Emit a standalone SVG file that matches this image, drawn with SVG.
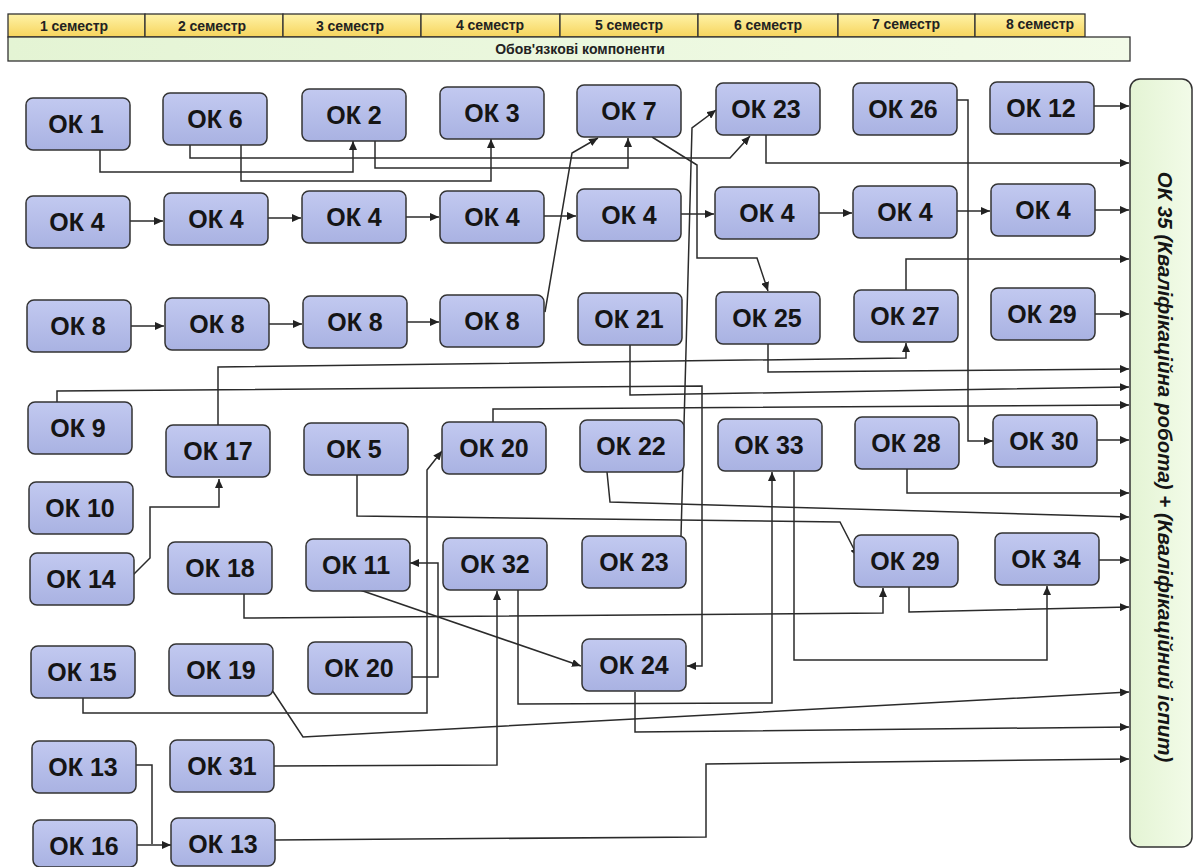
<svg xmlns="http://www.w3.org/2000/svg" width="1196" height="867" viewBox="0 0 1196 867">
<defs>
<linearGradient id="gy" x1="0" y1="0" x2="0" y2="1"><stop offset="0" stop-color="#fff3a8"/><stop offset="1" stop-color="#f6d45c"/></linearGradient>
<linearGradient id="gg" x1="0" y1="0" x2="1" y2="0"><stop offset="0" stop-color="#e4f4d4"/><stop offset="1" stop-color="#f2fbe8"/></linearGradient>
<linearGradient id="gn" x1="0" y1="0" x2="0" y2="1"><stop offset="0" stop-color="#c2c9f0"/><stop offset="1" stop-color="#a9b2e2"/></linearGradient>
<marker id="ar" markerWidth="9" markerHeight="8" refX="9" refY="4" orient="auto" markerUnits="userSpaceOnUse"><path d="M0,0 L9,4 L0,8 z" fill="#222"/></marker>
<style>
.hd{fill:url(#gy);stroke:#333;stroke-width:1.3}
.ht{font-family:"Liberation Sans",Arial,sans-serif;font-weight:bold;font-size:14px;fill:#222;text-anchor:middle}
.n rect{fill:url(#gn);stroke:#333;stroke-width:1.5}
.n text{font-family:"Liberation Sans",Arial,sans-serif;font-weight:bold;font-size:25px;fill:#151515;text-anchor:middle}
.c path{fill:none;stroke:#2b2b2b;stroke-width:1.5;marker-end:url(#ar)}
.c path.na{marker-end:none}
</style>
</defs>
<rect width="1196" height="867" fill="#ffffff"/>
<g id="header">
<rect class="hd" x="8" y="14" width="137" height="23"/>
<rect class="hd" x="145" y="14" width="138" height="23"/>
<rect class="hd" x="283" y="14" width="138" height="23"/>
<rect class="hd" x="421" y="14" width="139" height="23"/>
<rect class="hd" x="560" y="14" width="138" height="23"/>
<rect class="hd" x="698" y="14" width="140" height="23"/>
<rect class="hd" x="838" y="14" width="137" height="23"/>
<rect class="hd" x="975" y="14" width="110" height="23"/>
<text class="ht" x="74" y="31">1 семестр</text>
<text class="ht" x="212" y="31">2 семестр</text>
<text class="ht" x="350" y="31">3 семестр</text>
<text class="ht" x="490" y="30">4 семестр</text>
<text class="ht" x="629" y="30">5 семестр</text>
<text class="ht" x="768" y="30">6 семестр</text>
<text class="ht" x="906" y="29">7 семестр</text>
<text class="ht" x="1040" y="29">8 семестр</text>
<rect x="8" y="37" width="1122" height="24" fill="url(#gg)" stroke="#333" stroke-width="1.3"/>
<text class="ht" x="580" y="54">Обов'язкові компоненти</text>
</g>
<g id="ok35">
<rect x="1130" y="79" width="62" height="768" rx="10" fill="url(#gg)" stroke="#333" stroke-width="1.5"/>
<text transform="translate(1158,467) rotate(90)" font-family="'Liberation Sans',Arial,sans-serif" font-weight="bold" font-style="italic" font-size="20.5" fill="#151515" text-anchor="middle">ОК 35 (Кваліфікаційна робота) + (Кваліфікаційний іспит)</text>
</g>
<g class="c" id="connectors">
<path d="M100,150 V172 H353 V141"/>
<path d="M190,145 V158 H730 L750,136"/>
<path d="M375,141 V168 H628 V138"/>
<path d="M241,145 V181 H491 V139"/>
<path d="M652,137 L697,165 V258 H757 L768,291"/>
<path d="M545,312 L572,153 L598,138"/>
<path d="M681,536 L692,128 L716,110"/>
<path d="M766,135 V163 H1129"/>
<path d="M957,100 H968 V441 H993"/>
<path d="M1094,106 H1129"/>
<path d="M130,221 H163"/>
<path d="M268,218 H301"/>
<path d="M406,217 H439"/>
<path d="M544,216 H576"/>
<path d="M681,214 H714"/>
<path d="M819,213 H852"/>
<path d="M957,211 H990"/>
<path d="M1095,210 H1129"/>
<path d="M131,326 H164"/>
<path d="M269,324 H302"/>
<path d="M407,322 H439"/>
<path d="M1095,314 H1129"/>
<path d="M906,290 V259 H1129"/>
<path d="M218,425 V367 L906,358 V343"/>
<path d="M768,344 V372 L1129,369"/>
<path d="M57,402 V391 L702,386 V666 H687"/>
<path d="M630,345 V395 L1129,387"/>
<path d="M493,422 V409 L1129,405"/>
<path d="M1097,440 H1129"/>
<path d="M907,469 V493 H1129"/>
<path d="M607,472 L610,502 L1129,517"/>
<path d="M357,475 V516 L840,522 L858,557"/>
<path d="M1099,560 H1129"/>
<path d="M909,587 V612 L1129,607"/>
<path d="M244,594 V618 L883,613 V588"/>
<path d="M794,471 V660 H1047 V586"/>
<path d="M518,590 V704 L772,703 V472"/>
<path d="M274,766 L497,765 V591"/>
<path d="M360,590 L581,666"/>
<path d="M410,677 H438 V563 H410"/>
<path d="M83,697 V713 H427 V470 L442,451"/>
<path d="M272,690 L303,737 L1129,692"/>
<path d="M635,692 V732 L1129,727"/>
<path d="M274,840 L706,837 V764 L1129,759"/>
<path class="na" d="M135,765 H152 V844"/>
<path d="M136,845 H171"/>
<path d="M133,575 L150,558 V507 H219 V479"/>
</g>
<g class="n" id="n-ok1"><rect x="26" y="98" width="104" height="52" rx="7"/><text x="76" y="133">ОК 1</text></g>
<g class="n" id="n-ok6"><rect x="163" y="93" width="104" height="52" rx="7"/><text x="215" y="128">ОК 6</text></g>
<g class="n" id="n-ok2"><rect x="302" y="89" width="104" height="52" rx="7"/><text x="354" y="124">ОК 2</text></g>
<g class="n" id="n-ok3"><rect x="440" y="87" width="104" height="52" rx="7"/><text x="492" y="122">ОК 3</text></g>
<g class="n" id="n-ok7"><rect x="577" y="85" width="104" height="52" rx="7"/><text x="629" y="120">ОК 7</text></g>
<g class="n" id="n-ok23a"><rect x="716" y="83" width="104" height="52" rx="7"/><text x="766" y="118">ОК 23</text></g>
<g class="n" id="n-ok26"><rect x="853" y="83" width="104" height="52" rx="7"/><text x="903" y="118">ОК 26</text></g>
<g class="n" id="n-ok12"><rect x="990" y="82" width="104" height="52" rx="7"/><text x="1041" y="117">ОК 12</text></g>
<g class="n" id="n-ok4-1"><rect x="26" y="196" width="104" height="52" rx="7"/><text x="77" y="231">ОК 4</text></g>
<g class="n" id="n-ok4-2"><rect x="164" y="193" width="104" height="52" rx="7"/><text x="216" y="228">ОК 4</text></g>
<g class="n" id="n-ok4-3"><rect x="302" y="191" width="104" height="52" rx="7"/><text x="354" y="226">ОК 4</text></g>
<g class="n" id="n-ok4-4"><rect x="440" y="191" width="104" height="52" rx="7"/><text x="492" y="226">ОК 4</text></g>
<g class="n" id="n-ok4-5"><rect x="577" y="189" width="104" height="52" rx="7"/><text x="629" y="224">ОК 4</text></g>
<g class="n" id="n-ok4-6"><rect x="715" y="187" width="104" height="52" rx="7"/><text x="767" y="222">ОК 4</text></g>
<g class="n" id="n-ok4-7"><rect x="853" y="186" width="104" height="52" rx="7"/><text x="905" y="221">ОК 4</text></g>
<g class="n" id="n-ok4-8"><rect x="991" y="184" width="104" height="52" rx="7"/><text x="1043" y="219">ОК 4</text></g>
<g class="n" id="n-ok8-1"><rect x="27" y="300" width="104" height="52" rx="7"/><text x="78" y="335">ОК 8</text></g>
<g class="n" id="n-ok8-2"><rect x="165" y="298" width="104" height="52" rx="7"/><text x="217" y="333">ОК 8</text></g>
<g class="n" id="n-ok8-3"><rect x="303" y="296" width="104" height="52" rx="7"/><text x="355" y="331">ОК 8</text></g>
<g class="n" id="n-ok8-4"><rect x="440" y="295" width="104" height="52" rx="7"/><text x="492" y="330">ОК 8</text></g>
<g class="n" id="n-ok21"><rect x="578" y="293" width="104" height="52" rx="7"/><text x="629" y="328">ОК 21</text></g>
<g class="n" id="n-ok25"><rect x="716" y="292" width="104" height="52" rx="7"/><text x="767" y="327">ОК 25</text></g>
<g class="n" id="n-ok27"><rect x="854" y="290" width="104" height="52" rx="7"/><text x="905" y="325">ОК 27</text></g>
<g class="n" id="n-ok29a"><rect x="991" y="288" width="104" height="52" rx="7"/><text x="1042" y="323">ОК 29</text></g>
<g class="n" id="n-ok9"><rect x="28" y="402" width="104" height="52" rx="7"/><text x="78" y="437">ОК 9</text></g>
<g class="n" id="n-ok17"><rect x="166" y="425" width="104" height="52" rx="7"/><text x="218" y="460">ОК 17</text></g>
<g class="n" id="n-ok5"><rect x="304" y="423" width="104" height="52" rx="7"/><text x="354" y="458">ОК 5</text></g>
<g class="n" id="n-ok20a"><rect x="442" y="422" width="104" height="52" rx="7"/><text x="494" y="457">ОК 20</text></g>
<g class="n" id="n-ok22"><rect x="580" y="420" width="104" height="52" rx="7"/><text x="631" y="455">ОК 22</text></g>
<g class="n" id="n-ok33"><rect x="718" y="419" width="104" height="52" rx="7"/><text x="769" y="454">ОК 33</text></g>
<g class="n" id="n-ok28"><rect x="855" y="417" width="104" height="52" rx="7"/><text x="906" y="452">ОК 28</text></g>
<g class="n" id="n-ok30"><rect x="993" y="415" width="104" height="52" rx="7"/><text x="1044" y="450">ОК 30</text></g>
<g class="n" id="n-ok10"><rect x="29" y="482" width="104" height="52" rx="7"/><text x="80" y="517">ОК 10</text></g>
<g class="n" id="n-ok14"><rect x="30" y="553" width="104" height="52" rx="7"/><text x="81" y="588">ОК 14</text></g>
<g class="n" id="n-ok18"><rect x="168" y="542" width="104" height="52" rx="7"/><text x="220" y="577">ОК 18</text></g>
<g class="n" id="n-ok11"><rect x="306" y="539" width="104" height="52" rx="7"/><text x="356" y="574">ОК 11</text></g>
<g class="n" id="n-ok32"><rect x="443" y="538" width="104" height="52" rx="7"/><text x="495" y="573">ОК 32</text></g>
<g class="n" id="n-ok23b"><rect x="582" y="536" width="104" height="52" rx="7"/><text x="634" y="571">ОК 23</text></g>
<g class="n" id="n-ok29b"><rect x="854" y="535" width="104" height="52" rx="7"/><text x="905" y="570">ОК 29</text></g>
<g class="n" id="n-ok34"><rect x="995" y="533" width="104" height="52" rx="7"/><text x="1046" y="568">ОК 34</text></g>
<g class="n" id="n-ok15"><rect x="31" y="646" width="104" height="52" rx="7"/><text x="82" y="681">ОК 15</text></g>
<g class="n" id="n-ok19"><rect x="169" y="644" width="104" height="52" rx="7"/><text x="221" y="679">ОК 19</text></g>
<g class="n" id="n-ok20b"><rect x="308" y="642" width="104" height="52" rx="7"/><text x="359" y="677">ОК 20</text></g>
<g class="n" id="n-ok24"><rect x="582" y="639" width="104" height="52" rx="7"/><text x="634" y="674">ОК 24</text></g>
<g class="n" id="n-ok13a"><rect x="32" y="741" width="104" height="52" rx="7"/><text x="83" y="776">ОК 13</text></g>
<g class="n" id="n-ok31"><rect x="170" y="740" width="104" height="52" rx="7"/><text x="222" y="775">ОК 31</text></g>
<g class="n" id="n-ok16"><rect x="33" y="820" width="104" height="47" rx="7"/><text x="84" y="855">ОК 16</text></g>
<g class="n" id="n-ok13b"><rect x="171" y="818" width="104" height="48" rx="7"/><text x="223" y="853">ОК 13</text></g>
</svg>
